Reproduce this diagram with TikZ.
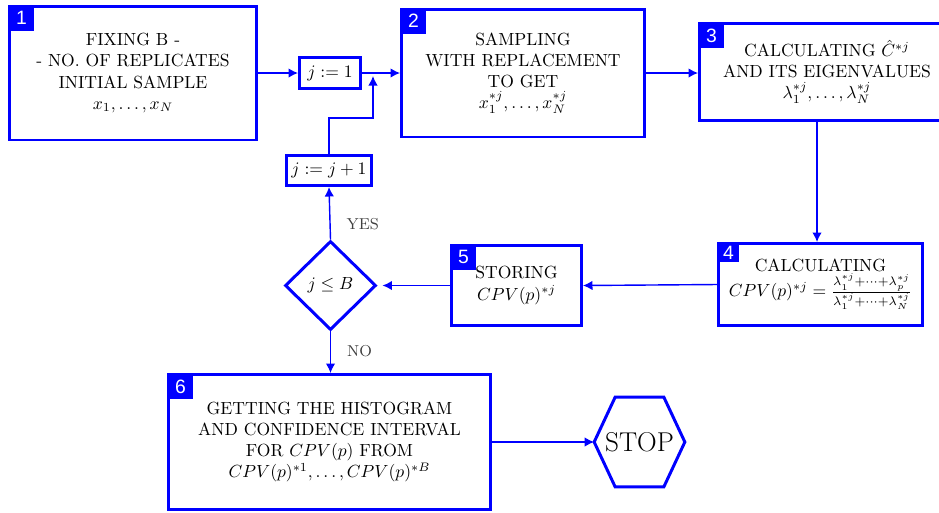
\documentclass[tikz,border=0pt]{standalone}
\usepackage{fontspec}
\newfontfamily\badgefont{Liberation Sans}
\usetikzlibrary{arrows.meta,shapes.geometric}

\tikzset{
  stepbox/.style={draw=blue, line width=1.7pt, fill=white, align=center, inner sep=0pt},
  badge/.style={fill=blue, text=white, font=\badgefont\fontsize{11}{12}\selectfont,
    minimum width=0.52cm, minimum height=0.52cm, inner sep=0pt, anchor=north west},
  flow/.style={draw=blue, line width=0.8pt, -{Latex[length=1.9mm,width=1.9mm]}},
  answer/.style={font=\small, text=black!75},
}

\begin{document}
\begin{tikzpicture}[x=0.02cm,y=-0.02cm]
\useasboundingbox (0,0) rectangle (939,512);

% steps
\node[stepbox, minimum width=4.94cm, minimum height=2.68cm] (S1) at (133,73)
  {FIXING B -\\- NO. OF REPLICATES\\INITIAL SAMPLE\\$x_1,\ldots,x_N$};
\node[stepbox, minimum width=1.22cm, minimum height=0.62cm] (J1) at (330,73) {$j := 1$};
\node[stepbox, minimum width=4.86cm, minimum height=2.56cm] (S2) at (523,73)
  {SAMPLING\\WITH REPLACEMENT\\TO GET\\$x_1^{*j},\ldots,x_N^{*j}$};
\node[stepbox, minimum width=5.1cm, minimum height=1.94cm] (S3) at (827,72)
  {CALCULATING $\hat{C}^{*j}$\\AND ITS EIGENVALUES\\$\lambda_1^{*j},\ldots,\lambda_N^{*j}$};
\node[stepbox, minimum width=1.7cm, minimum height=0.6cm] (J2) at (329,170.5) {$j := j+1$};
\node[stepbox, minimum width=4.08cm, minimum height=1.64cm] (S4) at (820.5,284.5)
  {CALCULATING\\$CPV(p)^{*j} = \frac{\lambda_1^{*j}+\cdots+\lambda_p^{*j}}{\lambda_1^{*j}+\cdots+\lambda_N^{*j}}$};
\node[stepbox, minimum width=2.6cm, minimum height=1.6cm] (S5) at (516.5,285.5)
  {STORING\\$CPV(p)^{*j}$};
\node[stepbox, diamond, aspect=1, minimum width=1.82cm, minimum height=1.78cm] (D) at (330.5,285.5) {$j \le B$};
\node[stepbox, minimum width=6.44cm, minimum height=2.7cm] (S6) at (329.5,442)
  {GETTING THE HISTOGRAM\\AND CONFIDENCE INTERVAL\\FOR $CPV(p)$ FROM\\$CPV(p)^{*1},\ldots,CPV(p)^{*B}$};
\node[minimum width=1.8cm, minimum height=1.78cm, inner sep=0pt, font=\fontsize{15.5}{18}\selectfont] (STOP) at (639.5,442) {STOP};
\draw[blue, line width=1.7pt, line join=miter] (STOP.west) -- ([xshift=0.42cm]STOP.north west)
  -- ([xshift=-0.42cm]STOP.north east) -- (STOP.east)
  -- ([xshift=-0.42cm]STOP.south east) -- ([xshift=0.42cm]STOP.south west) -- cycle;

% numbers
\node[badge] (N1) at (S1.north west) {1};
\node[badge] (N2) at (S2.north west) {2};
\node[badge] (N3) at (S3.north west) {3};
\node[badge, minimum width=0.44cm, minimum height=0.4cm] (N4) at (S4.north west) {4};
\node[badge] (N5) at (S5.north west) {5};
\node[badge] (N6) at (S6.north west) {6};

% connectors
\coordinate (K) at (373,118);
\coordinate (Jin) at (373,76);
\coordinate (Out3) at (817,122);
\draw[flow] (S1.east) -- (J1.west);
\draw[flow] (J1.east) -- (S2.west);
\draw[flow] (J2.north) |- (K) -- (Jin);
\draw[flow] (S2.east) -- (S2.east -| S3.west);
\draw[flow] (Out3) -- (Out3 |- S4.north);
\draw[flow] (S4.west) -- (S5.east);
\draw[flow, shorten >=0.1cm] (S5.west) -- (D.east);
\draw[flow] (D.north) -- (J2.south) node[answer, right=0.2cm, pos=0.3] {YES};
\draw[flow] (D.south) -- (D.south |- S6.north) node[answer, right=0.2cm, pos=0.47] {NO};
\draw[flow] (S6.east) -- (STOP.west);
\end{tikzpicture}
\end{document}
